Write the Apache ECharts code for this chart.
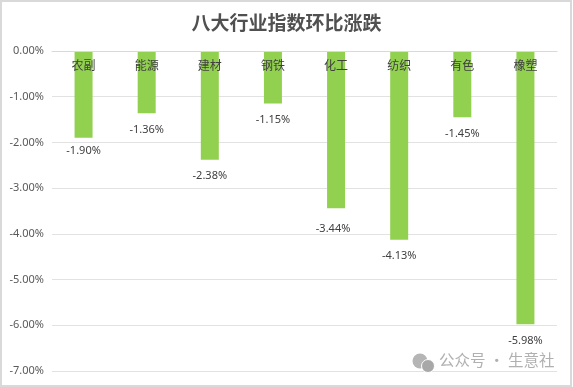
<!DOCTYPE html>
<html>
<head>
<meta charset="utf-8">
<style>
  html, body { margin: 0; padding: 0; background: #fff; }
  #chart { width: 573px; height: 387px; }
</style>
<script src="https://cdn.jsdelivr.net/npm/echarts@6/dist/echarts.min.js"></script>
</head>
<body>
<div id="chart"></div>
<script>
var categories = ['农副', '能源', '建材', '钢铁', '化工', '纺织', '有色', '橡塑'];
var changes = [-1.90, -1.36, -2.38, -1.15, -3.44, -4.13, -1.45, -5.98];

var myChart = echarts.init(document.getElementById('chart'));

// the reference has a couple of hand-moved data labels
function labelFor(value) {
  if (value === -1.90) return { offset: [0, -3] };
  if (value === -3.44) return { offset: [-3, 4] };
  return {};
}

var option = {
  backgroundColor: '#fff',
  animation: false,
  title: {
    text: '八大行业指数环比涨跌',
    left: 'center',
    top: 8,
    textStyle: {
      fontFamily: '"Noto Sans CJK SC"',
      fontSize: 19,
      fontWeight: 'bold',
      color: '#505050'
    }
  },
  grid: { left: 52, right: 16, top: 51, bottom: 16 },
  xAxis: {
    type: 'category',
    position: 'top',
    data: categories,
    axisTick: { show: false },
    axisLine: { show: true, lineStyle: { color: '#d9d9d9', width: 1 } },
    axisLabel: {
      inside: true,
      margin: 8,
      fontFamily: '"Noto Sans CJK SC"',
      fontSize: 12,
      color: '#404040'
    },
    z: 5
  },
  yAxis: {
    type: 'value',
    min: -7,
    max: 0,
    interval: 1,
    axisLine: { show: false },
    axisTick: { show: false },
    splitLine: { lineStyle: { color: '#e2e2e2', width: 1 } },
    axisLabel: {
      margin: 8,
      fontFamily: '"Noto Sans"',
      fontSize: 11,
      color: '#595959',
      formatter: function (v) { return v.toFixed(2) + '%'; }
    }
  },
  series: [{
    type: 'bar',
    data: changes.map(function (v) {
      return { value: v, label: labelFor(v) };
    }),
    barWidth: 18,
    itemStyle: { color: '#92d050' },
    label: {
      show: true,
      position: 'bottom',
      distance: 11,
      fontFamily: '"Noto Sans"',
      fontSize: 11,
      color: '#404040',
      formatter: function (p) { return p.value.toFixed(2) + '%'; }
    }
  }],
  graphic: [
    { type: 'rect', silent: true, z: 20, shape: { x: 1, y: 1, width: 570, height: 385 },
      style: { fill: 'none', stroke: '#d9d9d9', lineWidth: 2 } },
    // watermark
    { type: 'circle', silent: true, z: 20, shape: { cx: 420, cy: 361, r: 7.5 }, style: { fill: '#b5b5b5' } },
    { type: 'circle', silent: true, z: 21, shape: { cx: 428, cy: 366, r: 6.5 }, style: { fill: '#a8a8a8', stroke: '#fff', lineWidth: 1 } },
    { type: 'text', silent: true, z: 20, left: 439, top: 352,
      style: { text: '公众号 · 生意社', fill: '#b0b0b0', fontSize: 15.5, fontFamily: '"Noto Sans CJK SC"' } }
  ]
};

myChart.setOption(option);
</script>
</body>
</html>
